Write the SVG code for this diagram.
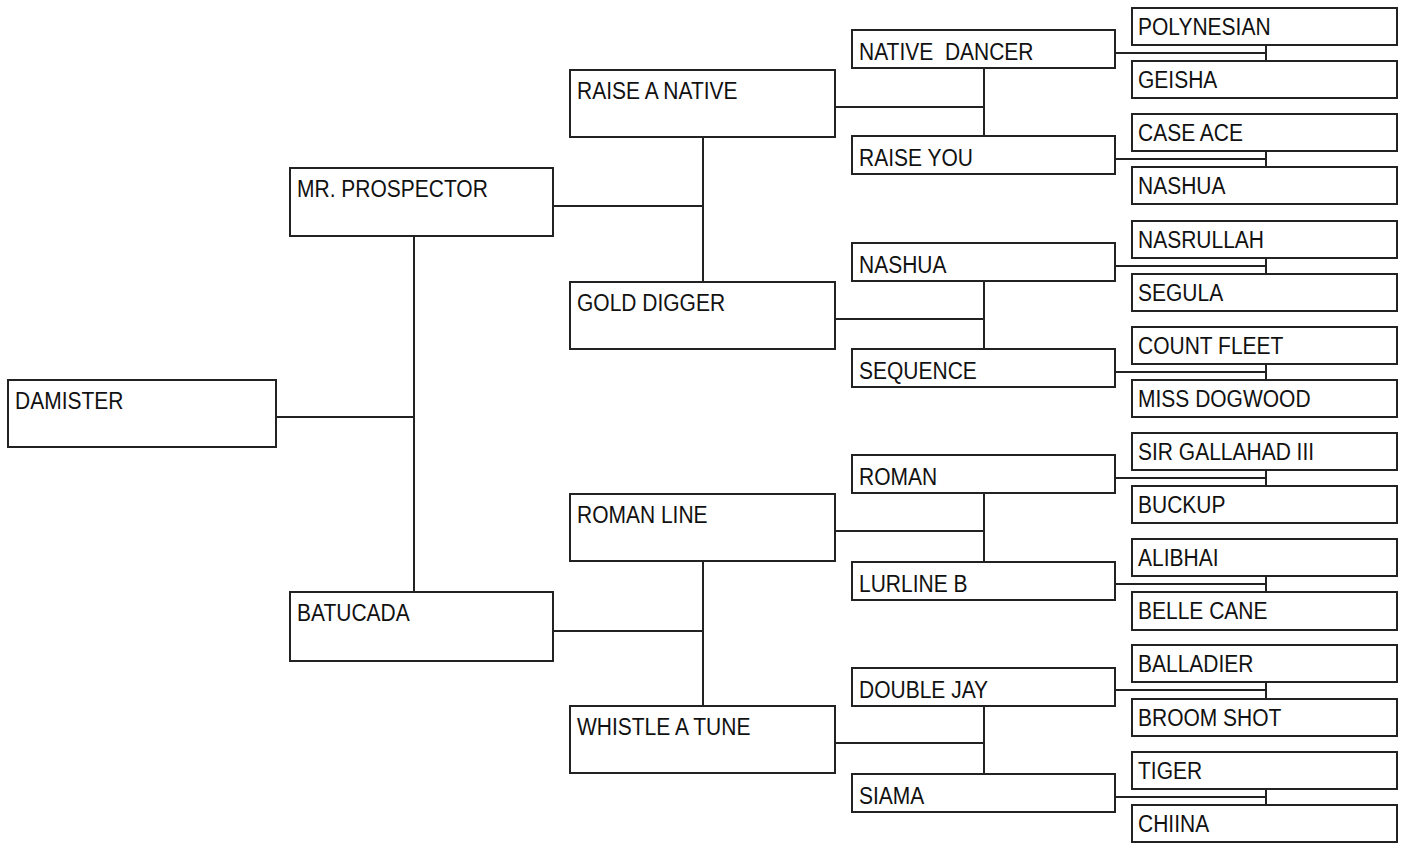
<svg xmlns="http://www.w3.org/2000/svg" width="1405" height="846" viewBox="0 0 1405 846">
<style>
.b{fill:#fff;stroke:#222;stroke-width:2}
.t{font-family:"Liberation Sans",Arial,sans-serif;font-size:21px;fill:#111}
.c{fill:none;stroke:#222;stroke-width:2}
</style>
<rect width="1405" height="846" fill="#fff"/>
<g id="connectors" class="c">
<path d="M276 417H414M414 236V592"/>
<path d="M553 206H703M703 137V282"/>
<path d="M553 631H703M703 561V706"/>
<path d="M835 107H984M984 68V136"/>
<path d="M835 319H984M984 281V349"/>
<path d="M835 531H984M984 493V562"/>
<path d="M835 743H984M984 706V774"/>
<path d="M1115 53H1266M1266 45V61"/>
<path d="M1115 159H1266M1266 151V167"/>
<path d="M1115 266H1266M1266 258V274"/>
<path d="M1115 372H1266M1266 364V380"/>
<path d="M1115 478H1266M1266 470V486"/>
<path d="M1115 584H1266M1266 576V592"/>
<path d="M1115 690H1266M1266 682V699"/>
<path d="M1115 797H1266M1266 789V805"/>
</g>
<g id="damister"><rect class="b" x="8" y="380" width="268" height="67"/><text class="t" transform="translate(15,409) scale(1,1.12)">DAMISTER</text></g>
<g id="mr-prospector"><rect class="b" x="290" y="168" width="263" height="68"/><text class="t" transform="translate(297,197) scale(1,1.12)">MR. PROSPECTOR</text></g>
<g id="batucada"><rect class="b" x="290" y="592" width="263" height="69"/><text class="t" transform="translate(297,621) scale(1,1.12)">BATUCADA</text></g>
<g id="raise-a-native"><rect class="b" x="570" y="70" width="265" height="67"/><text class="t" transform="translate(577,99) scale(1,1.12)">RAISE A NATIVE</text></g>
<g id="gold-digger"><rect class="b" x="570" y="282" width="265" height="67"/><text class="t" transform="translate(577,311) scale(1,1.12)">GOLD DIGGER</text></g>
<g id="roman-line"><rect class="b" x="570" y="494" width="265" height="67"/><text class="t" transform="translate(577,523) scale(1,1.12)">ROMAN LINE</text></g>
<g id="whistle-a-tune"><rect class="b" x="570" y="706" width="265" height="67"/><text class="t" transform="translate(577,735) scale(1,1.12)">WHISTLE A TUNE</text></g>
<g id="native-dancer"><rect class="b" x="852" y="30" width="263" height="38"/><text class="t" xml:space="preserve" transform="translate(859,60) scale(1,1.12)">NATIVE  DANCER</text></g>
<g id="raise-you"><rect class="b" x="852" y="136" width="263" height="38"/><text class="t" transform="translate(859,166) scale(1,1.12)">RAISE YOU</text></g>
<g id="nashua-1"><rect class="b" x="852" y="243" width="263" height="38"/><text class="t" transform="translate(859,273) scale(1,1.12)">NASHUA</text></g>
<g id="sequence"><rect class="b" x="852" y="349" width="263" height="38"/><text class="t" transform="translate(859,379) scale(1,1.12)">SEQUENCE</text></g>
<g id="roman"><rect class="b" x="852" y="455" width="263" height="38"/><text class="t" transform="translate(859,485) scale(1,1.12)">ROMAN</text></g>
<g id="lurline-b"><rect class="b" x="852" y="562" width="263" height="38"/><text class="t" transform="translate(859,592) scale(1,1.12)">LURLINE B</text></g>
<g id="double-jay"><rect class="b" x="852" y="668" width="263" height="38"/><text class="t" transform="translate(859,698) scale(1,1.12)">DOUBLE JAY</text></g>
<g id="siama"><rect class="b" x="852" y="774" width="263" height="38"/><text class="t" transform="translate(859,804) scale(1,1.12)">SIAMA</text></g>
<g id="polynesian"><rect class="b" x="1132" y="8" width="265" height="37"/><text class="t" transform="translate(1138,35) scale(1,1.12)">POLYNESIAN</text></g>
<g id="geisha"><rect class="b" x="1132" y="61" width="265" height="37"/><text class="t" transform="translate(1138,88) scale(1,1.12)">GEISHA</text></g>
<g id="case-ace"><rect class="b" x="1132" y="114" width="265" height="37"/><text class="t" transform="translate(1138,141) scale(1,1.12)">CASE ACE</text></g>
<g id="nashua-2"><rect class="b" x="1132" y="167" width="265" height="37"/><text class="t" transform="translate(1138,194) scale(1,1.12)">NASHUA</text></g>
<g id="nasrullah"><rect class="b" x="1132" y="221" width="265" height="37"/><text class="t" transform="translate(1138,248) scale(1,1.12)">NASRULLAH</text></g>
<g id="segula"><rect class="b" x="1132" y="274" width="265" height="37"/><text class="t" transform="translate(1138,301) scale(1,1.12)">SEGULA</text></g>
<g id="count-fleet"><rect class="b" x="1132" y="327" width="265" height="37"/><text class="t" transform="translate(1138,354) scale(1,1.12)">COUNT FLEET</text></g>
<g id="miss-dogwood"><rect class="b" x="1132" y="380" width="265" height="37"/><text class="t" transform="translate(1138,407) scale(1,1.12)">MISS DOGWOOD</text></g>
<g id="sir-gallahad-iii"><rect class="b" x="1132" y="433" width="265" height="37"/><text class="t" transform="translate(1138,460) scale(1,1.12)">SIR GALLAHAD III</text></g>
<g id="buckup"><rect class="b" x="1132" y="486" width="265" height="37"/><text class="t" transform="translate(1138,513) scale(1,1.12)">BUCKUP</text></g>
<g id="alibhai"><rect class="b" x="1132" y="539" width="265" height="37"/><text class="t" transform="translate(1138,566) scale(1,1.12)">ALIBHAI</text></g>
<g id="belle-cane"><rect class="b" x="1132" y="592" width="265" height="38"/><text class="t" transform="translate(1138,619) scale(1,1.12)">BELLE CANE</text></g>
<g id="balladier"><rect class="b" x="1132" y="645" width="265" height="37"/><text class="t" transform="translate(1138,672) scale(1,1.12)">BALLADIER</text></g>
<g id="broom-shot"><rect class="b" x="1132" y="699" width="265" height="37"/><text class="t" transform="translate(1138,726) scale(1,1.12)">BROOM SHOT</text></g>
<g id="tiger"><rect class="b" x="1132" y="752" width="265" height="37"/><text class="t" transform="translate(1138,779) scale(1,1.12)">TIGER</text></g>
<g id="chiina"><rect class="b" x="1132" y="805" width="265" height="37"/><text class="t" transform="translate(1138,832) scale(1,1.12)">CHIINA</text></g>
</svg>
